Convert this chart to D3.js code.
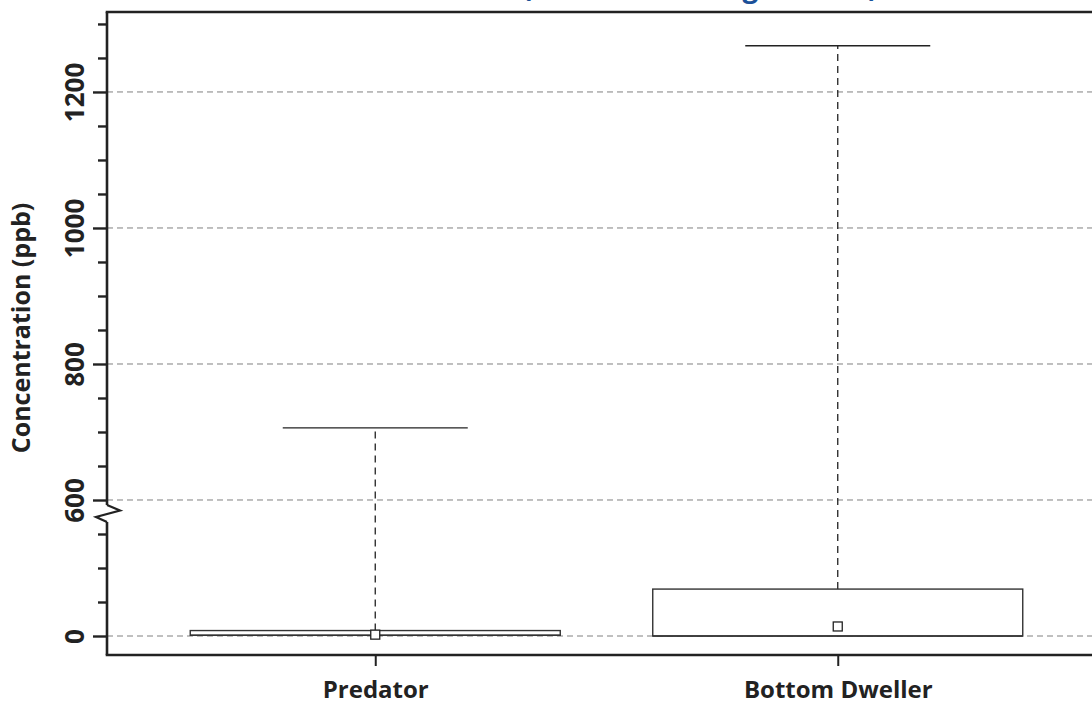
<!DOCTYPE html>
<html>
<head>
<meta charset="utf-8">
<script src="https://cdn.jsdelivr.net/npm/d3@7"></script>
<style>
  html, body { margin: 0; padding: 0; background: #fff; }
  svg { display: block; }
  text { font-family: "Open Sans", "Noto Sans", sans-serif; font-weight: bold; fill: #222; }
</style>
</head>
<body>
<svg id="chart" width="1092" height="705"></svg>
<script>
// ---- data ----
const categories = ["Predator", "Bottom Dweller"];
const q1Values     = [1, 0];
const medianValues = [1, 0];
const q3Values     = [8, 69];
const meanValues   = [2, 14];
const minValues    = [0, 0];
const maxValues    = [706, 1268];
const majorTicks   = [0, 600, 800, 1000, 1200];
const minorTicks   = [50, 100, 150, 650, 700, 750, 850, 900, 950, 1050, 1100, 1150, 1250, 1300];
const gridValues   = [0, 600, 800, 1000, 1200];
const titleText    = "(Whole Fish Weight Basis)";
const yLabel       = "Concentration (ppb)";

// ---- layout ----
const svg = d3.select("#chart");
const mLeft = 107, mRight = 1106, mTop = 12, mBottom = 655;

// broken axis: lower segment 0..175, upper segment 585..1317
const y = d3.scaleLinear()
  .domain([0, 175, 585, 1317])
  .range([636, 517, 510.2, 12.4]);

const x = d3.scalePoint()
  .domain(categories)
  .range([mLeft, mRight])
  .padding(0.58);
const step = x.step();
const boxW = step * 0.8;
const capW = step * 0.4;

// title (mostly clipped at top, as in the reference)
svg.append("text")
  .attr("x", 700).attr("y", -3)
  .attr("text-anchor", "middle")
  .style("font-size", "28px")
  .style("fill", "#1b5199")
  .text(titleText);

// gridlines
svg.append("g").selectAll("line")
  .data(gridValues).join("line")
  .attr("x1", mLeft).attr("x2", mRight)
  .attr("y1", d => y(d)).attr("y2", d => y(d))
  .attr("stroke", "#808080").attr("stroke-width", 1)
  .attr("stroke-dasharray", "6,4");

const data = categories.map((c, i) => ({
  cat: c, q1: q1Values[i], med: medianValues[i], q3: q3Values[i],
  mean: meanValues[i], min: minValues[i], max: maxValues[i]
}));

const g = svg.append("g");
// whiskers (dashed)
g.selectAll(".wu").data(data).join("line")
  .attr("x1", d => x(d.cat)).attr("x2", d => x(d.cat))
  .attr("y1", d => y(d.q3)).attr("y2", d => y(d.max))
  .attr("stroke", "#222").attr("stroke-width", 1.3)
  .attr("stroke-dasharray", "7,5");
g.selectAll(".wl").data(data).join("line")
  .attr("x1", d => x(d.cat)).attr("x2", d => x(d.cat))
  .attr("y1", d => y(d.q1)).attr("y2", d => y(d.min))
  .attr("stroke", "#222").attr("stroke-width", 1.3)
  .attr("stroke-dasharray", "7,5");
// caps
g.selectAll(".cap").data(data).join("line")
  .attr("x1", d => x(d.cat) - capW / 2).attr("x2", d => x(d.cat) + capW / 2)
  .attr("y1", d => y(d.max)).attr("y2", d => y(d.max))
  .attr("stroke", "#222").attr("stroke-width", 1.4);
// boxes
g.selectAll(".box").data(data).join("rect")
  .attr("x", d => x(d.cat) - boxW / 2).attr("width", boxW)
  .attr("y", d => y(d.q3)).attr("height", d => y(d.q1) - y(d.q3))
  .attr("fill", "#fff").attr("stroke", "#333").attr("stroke-width", 1.4);
// median
g.selectAll(".med").data(data).join("line")
  .attr("x1", d => x(d.cat) - boxW / 2).attr("x2", d => x(d.cat) + boxW / 2)
  .attr("y1", d => y(d.med)).attr("y2", d => y(d.med))
  .attr("stroke", "#333").attr("stroke-width", 1.4);
// mean markers
g.selectAll(".mean").data(data).join("rect")
  .attr("x", d => x(d.cat) - 4.5).attr("y", d => y(d.mean) - 4.5)
  .attr("width", 9).attr("height", 9)
  .attr("fill", "#fff").attr("stroke", "#222").attr("stroke-width", 1.3);

// frame
const frame = svg.append("g").attr("stroke", "#222").attr("stroke-width", 2.6).attr("fill", "none");
frame.append("line").attr("x1", mLeft - 1.3).attr("x2", mRight).attr("y1", mTop).attr("y2", mTop);
frame.append("line").attr("x1", mLeft - 1.3).attr("x2", mRight).attr("y1", mBottom).attr("y2", mBottom);
// left axis with break
frame.append("line").attr("x1", mLeft).attr("x2", mLeft).attr("y1", mTop).attr("y2", 505);
frame.append("line").attr("x1", mLeft).attr("x2", mLeft).attr("y1", 522).attr("y2", mBottom);
frame.append("path")
  .attr("d", d3.line()([[mLeft, 505], [120, 510.5], [96, 517], [mLeft, 522]]))
  .attr("stroke-width", 2.2);

// y axis ticks (d3 axis)
const yMajor = svg.append("g").attr("transform", `translate(${mLeft},0)`)
  .call(d3.axisLeft(y).tickValues(majorTicks).tickSize(14).tickFormat(d3.format("d")));
yMajor.select(".domain").remove();
yMajor.selectAll(".tick line").attr("stroke", "#222").attr("stroke-width", 2.4);
yMajor.selectAll(".tick text")
  .attr("x", 0).attr("y", 0).attr("dy", null)
  .attr("text-anchor", "middle")
  .attr("transform", "translate(-23,0) rotate(-90)")
  .style("font-size", "26px")
  .style("font-family", "'Open Sans', sans-serif")
  .style("font-weight", "bold")
  .attr("fill", "#222");

const yMinor = svg.append("g").attr("transform", `translate(${mLeft},0)`)
  .call(d3.axisLeft(y).tickValues(minorTicks).tickSize(9).tickFormat(""));
yMinor.select(".domain").remove();
yMinor.selectAll(".tick line").attr("stroke", "#222").attr("stroke-width", 2.4);

// x axis
const xAxis = svg.append("g").attr("transform", `translate(0,${mBottom})`)
  .call(d3.axisBottom(x).tickSize(11).tickPadding(15));
xAxis.select(".domain").remove();
xAxis.selectAll(".tick line").attr("stroke", "#222").attr("stroke-width", 2);
xAxis.selectAll(".tick text")
  .style("font-size", "24px")
  .style("font-family", "'Open Sans', sans-serif")
  .style("font-weight", "bold")
  .attr("fill", "#222");

// y label
svg.append("text")
  .attr("transform", "translate(30,328) rotate(-90)")
  .attr("text-anchor", "middle")
  .style("font-size", "25px")
  .text(yLabel);
</script>
</body>
</html>
